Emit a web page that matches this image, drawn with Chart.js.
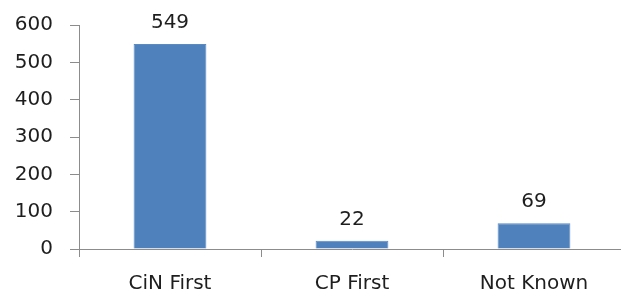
<!DOCTYPE html>
<html>
<head>
<meta charset="utf-8">
<script src="https://cdn.jsdelivr.net/npm/chart.js@4/dist/chart.umd.min.js"></script>
<style>
  html, body { margin: 0; padding: 0; background: #fff; overflow: hidden; }
  #wrap { width: 625px; height: 291px; }
</style>
</head>
<body>
<div id="wrap"><canvas id="chart" width="625" height="291"></canvas></div>
<script>
// chart data
const categories = ['CiN First', 'CP First', 'Not Known'];
const counts = [549, 22, 69];
const yTicks = [0, 100, 200, 300, 400, 500, 600];

const axisColor = '#8c8c8c';
const textColor = '#1e1e1e';
const font = { family: '"DejaVu Sans", sans-serif', size: 20 };

// draws the value above each bar
const valueLabels = {
   id: 'valueLabels',
   afterDatasetsDraw(chart) {
      const ctx = chart.ctx;
      const meta = chart.getDatasetMeta(0);
      ctx.save();
      ctx.font = font.size + 'px ' + font.family;
      ctx.fillStyle = textColor;
      ctx.textAlign = 'center';
      ctx.textBaseline = 'alphabetic';
      meta.data.forEach((bar, i) => {
         ctx.fillText(String(counts[i]), bar.x, bar.y - 16);
      });
      ctx.restore();
   }
};

const chart = new Chart(document.getElementById('chart').getContext('2d'), {
   type: 'bar',
   data: {
      labels: categories,
      datasets: [{
         data: counts,
         backgroundColor: '#4f81bd',
         borderColor: '#5a8ac4',
         borderWidth: 1,
         categoryPercentage: 0.4,
         barPercentage: 1
      }]
   },
   options: {
      responsive: false,
      animation: false,
      layout: { padding: { top: 25, right: 0, bottom: 0, left: 0 } },
      plugins: { legend: { display: false }, tooltip: { enabled: false } },
      scales: {
         x: {
            grid: { drawOnChartArea: false, drawTicks: true, tickLength: 8, color: axisColor, offset: true },
            border: { color: axisColor },
            ticks: { color: textColor, font: font, padding: 15 },
            afterFit: s => { s.height = 42; }
         },
         y: {
            min: 0,
            max: 600,
            afterBuildTicks: s => { s.ticks = yTicks.map(v => ({ value: v })); },
            grid: { drawOnChartArea: false, drawTicks: true, tickLength: 9, color: axisColor },
            border: { color: axisColor },
            ticks: { color: textColor, font: font, padding: 17 },
            afterFit: s => { s.width = 79; s.paddingTop = 0; s.paddingBottom = 0; }
         }
      }
   },
   plugins: [valueLabels]
});
</script>
</body>
</html>
